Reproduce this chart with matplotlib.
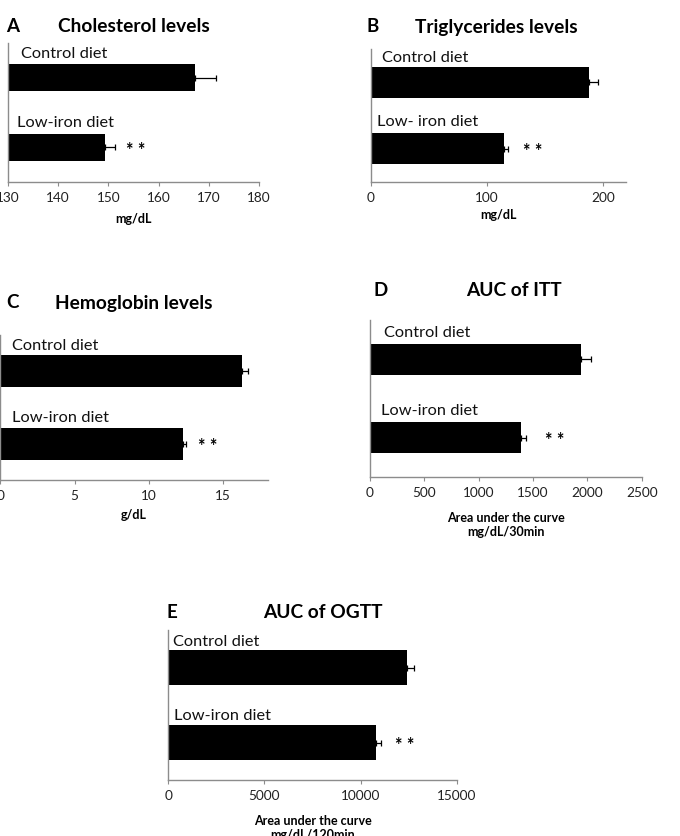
import matplotlib
matplotlib.use("Agg")
import matplotlib.pyplot as plt
import matplotlib.transforms as mtransforms

plt.rcParams['font.family'] = ['Lato', 'DejaVu Sans']

W, H = 680, 836
DPI = 100

# ---------------- data ----------------
groups = ["Control diet", "Low-iron diet"]
groups_b = ["Control diet", "Low- iron diet"]

chol_vals = [167.3, 149.4]
chol_errs = [4.2, 2.0]
chol_ticks = [130, 140, 150, 160, 170, 180]

trig_vals = [187.7, 114.9]
trig_errs = [8.0, 3.4]
trig_ticks = [0, 100, 200]

hb_vals = [16.3, 12.27]
hb_errs = [0.4, 0.2]
hb_ticks = [0, 5, 10, 15]

itt_vals = [1939, 1387]
itt_errs = [90, 50]
itt_ticks = [0, 500, 1000, 1500, 2000, 2500]

ogtt_vals = [12435, 10790]
ogtt_errs = [350, 280]
ogtt_ticks = [0, 5000, 10000, 15000]

# ---------------- layout (pixels) ----------------
panels = [
    dict(letter="A", title="Cholesterol levels", vals=chol_vals, errs=chol_errs,
         ticks=chol_ticks, xlim=(130, 180), xlabel="mg/dL", cats=groups,
         box=(8, 259, 43, 182), bh=0.39, letter_xy=(6, 27), title_x=58,
         lab_off=[(13, 10), (9, 11)], star_off=11, lpad=6),
    dict(letter="B", title="Triglycerides levels", vals=trig_vals, errs=trig_errs,
         ticks=trig_ticks, xlim=(0, 219.5), xlabel="mg/dL", cats=groups_b,
         box=(370.7, 626, 49, 182), bh=0.46, letter_xy=(367, 27), title_x=415,
         lab_off=[(11, 9), (6, 11)], star_off=15, lpad=3),
    dict(letter="C", title="Hemoglobin levels", vals=hb_vals, errs=hb_errs,
         ticks=hb_ticks, xlim=(0, 18), xlabel="g/dL", cats=groups,
         box=(0.3, 267.7, 335, 480), bh=0.44, letter_xy=(6, 303), title_x=55,
         lab_off=[(12, 9), (12, 10)], star_off=12, lpad=5),
    dict(letter="D", title="AUC of ITT", vals=itt_vals, errs=itt_errs,
         ticks=itt_ticks, xlim=(0, 2500), xlabel="Area under the curve\nmg/dL/30min",
         cats=groups, box=(370, 641.7, 320, 477), bh=0.39, letter_xy=(373, 290),
         title_x=466, lab_off=[(14, 11), (11, 11)], star_off=19, lpad=9),
    dict(letter="E", title="AUC of OGTT", vals=ogtt_vals, errs=ogtt_errs,
         ticks=ogtt_ticks, xlim=(0, 15000), xlabel="Area under the curve\nmg/dL/120min",
         cats=groups, box=(168.3, 456.7, 630, 780), bh=0.47, letter_xy=(167, 612),
         title_x=263, lab_off=[(5, 8), (6, 9)], star_off=14, lpad=9),
]

fig = plt.figure(figsize=(W / DPI, H / DPI), dpi=DPI)
fig.patch.set_facecolor("white")

spine_col = "#8c8c8c"
ypos = [1, 0]

for p in panels:
    l, r, t, b = p["box"]
    ax = fig.add_axes([l / W, 1 - b / H, (r - l) / W, (b - t) / H])
    ax.barh(ypos, p["vals"], height=p["bh"], color="black", left=0)
    ax.errorbar(p["vals"], ypos, xerr=[[0, 0], p["errs"]], fmt="none",
                ecolor="black", elinewidth=0.9, capsize=2.5, capthick=0.9)
    ax.set_xlim(*p["xlim"])
    ax.set_ylim(-0.5, 1.5)
    ax.set_xticks(p["ticks"])
    ax.set_xticklabels([str(v) for v in p["ticks"]])
    ax.set_yticks([])
    for s in ["top", "right"]:
        ax.spines[s].set_visible(False)
    for s in ["left", "bottom"]:
        ax.spines[s].set_color(spine_col)
        ax.spines[s].set_linewidth(1.0)
    ax.tick_params(axis="x", direction="out", length=3, width=0.8, color=spine_col,
                   labelsize=9.8, labelcolor="#222222", pad=4.5)
    ax.set_xlabel(p["xlabel"], fontsize=9, fontweight="bold", labelpad=p["lpad"],
                  linespacing=1.2)
    trans = mtransforms.blended_transform_factory(ax.transAxes, ax.transData)
    for yv, cat, (dx, dy) in zip(ypos, p["cats"], p["lab_off"]):
        ax.annotate(cat, xy=(0, yv + p["bh"] / 2), xycoords=trans,
                    xytext=(dx, dy), textcoords="offset pixels",
                    ha="left", va="center", fontsize=11.8, color="#111111")
    # significance stars on low-iron bar
    ax.annotate("* *", xy=(p["vals"][1] + p["errs"][1], ypos[1]), xycoords="data",
                xytext=(p["star_off"], -3), textcoords="offset pixels",
                ha="left", va="center", fontsize=13, fontweight="bold")
    lx, ly = p["letter_xy"]
    fig.text(lx / W, 1 - ly / H, p["letter"], fontsize=13.5, fontweight="bold",
             ha="left", va="center")
    fig.text(p["title_x"] / W, 1 - ly / H, p["title"], fontsize=13.8,
             fontweight="bold", ha="left", va="center")

fig.savefig("out.png", dpi=DPI, facecolor="white")
